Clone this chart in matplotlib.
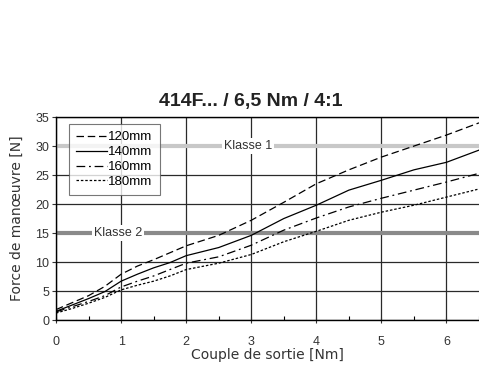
import matplotlib
matplotlib.use('Agg')
import matplotlib.pyplot as plt
from matplotlib.ticker import MultipleLocator

# Couple de sortie [Nm]
couple = [0, 0.25, 0.5, 0.75, 1, 1.25, 1.5, 1.75, 2, 2.5, 3, 3.5, 4, 4.5, 5, 5.5, 6, 6.5]
# Force de manoeuvre [N] pour chaque longueur de manivelle
f_120 = [1.8, 3.0, 4.2, 5.8, 7.9, 9.3, 10.4, 11.6, 12.8, 14.6, 17.2, 20.3, 23.5, 25.9, 28.1, 30.0, 31.9, 34.0]
f_140 = [1.5, 2.6, 3.7, 4.9, 6.7, 7.9, 9.0, 9.9, 11.1, 12.5, 14.6, 17.5, 19.8, 22.4, 24.1, 25.9, 27.2, 29.3]
f_160 = [1.4, 2.3, 3.2, 4.2, 5.7, 6.7, 7.6, 8.7, 9.8, 10.9, 12.9, 15.5, 17.6, 19.5, 21.0, 22.4, 23.8, 25.3]
f_180 = [1.2, 2.0, 2.9, 3.9, 5.2, 6.0, 6.7, 7.6, 8.7, 9.8, 11.3, 13.5, 15.3, 17.2, 18.6, 19.8, 21.2, 22.6]
labels = ['120mm', '140mm', '160mm', '180mm']

klasse_1 = 30
klasse_2 = 15

plt.rcParams['font.family'] = ['Liberation Sans', 'DejaVu Sans']

fig = plt.figure(figsize=(4.79, 3.67), dpi=100)
ax = fig.add_axes([0.117, 0.128, 0.883, 0.553])

ax.set_xlim(0, 6.5)
ax.set_ylim(0, 35)
ax.xaxis.set_major_locator(MultipleLocator(1))
ax.xaxis.set_minor_locator(MultipleLocator(0.5))
ax.yaxis.set_major_locator(MultipleLocator(5))
ax.grid(True, which='major', color='#2a2a2a', lw=0.9, zorder=1)
ax.set_axisbelow(True)

# classes
ax.axhline(klasse_1, color='#c8c8c8', lw=3, zorder=2)
ax.axhline(klasse_2, color='#8a8a8a', lw=3, zorder=2)
ax.text(2.95, klasse_1, 'Klasse 1', ha='center', va='center', fontsize=9, color='#333333',
        bbox=dict(facecolor='white', edgecolor='none', pad=1.5), zorder=3)
ax.text(0.95, klasse_2, 'Klasse 2', ha='center', va='center', fontsize=9, color='#333333',
        bbox=dict(facecolor='white', edgecolor='none', pad=1.5), zorder=3)

ax.plot(couple, f_120, color='black', lw=0.9, dashes=(6, 3), label=labels[0], zorder=4)
ax.plot(couple, f_140, color='black', lw=0.9, ls='-', label=labels[1], zorder=4)
ax.plot(couple, f_160, color='black', lw=0.9, dashes=(7, 3, 1.5, 3), label=labels[2], zorder=4)
ax.plot(couple, f_180, color='black', lw=0.9, dashes=(2, 1.5), label=labels[3], zorder=4)

leg = ax.legend(loc='upper left', bbox_to_anchor=(0.031, 0.966), fontsize=9.5, frameon=True,
                fancybox=False, edgecolor='#555555', handlelength=2.3, handletextpad=0.1,
                labelspacing=0.2, borderpad=0.55, borderaxespad=0)
leg.get_frame().set_linewidth(0.8)
leg.set_zorder(5)

ax.spines['right'].set_visible(False)
for s in ['left', 'bottom', 'top']:
    ax.spines[s].set_color('black')
    ax.spines[s].set_linewidth(1)

ax.tick_params(axis='x', which='major', direction='inout', length=5, width=0.8, pad=9, labelsize=9, colors='#333333')
ax.tick_params(axis='x', which='minor', direction='in', length=3, width=0.8)
ax.tick_params(axis='y', which='major', direction='out', length=3, width=0.8, pad=2, labelsize=9, colors='#333333')

ax.set_title('414F... / 6,5 Nm / 4:1', fontsize=14, fontweight='bold', pad=8, color='#222222', x=0.461)
ax.set_xlabel('Couple de sortie [Nm]', fontsize=10, color='#333333', labelpad=0, family=['DejaVu Sans'])
ax.set_ylabel('Force de manœuvre [N]', fontsize=10, color='#333333', labelpad=8, family=['DejaVu Sans'])

plt.savefig('out.png', dpi=100)
